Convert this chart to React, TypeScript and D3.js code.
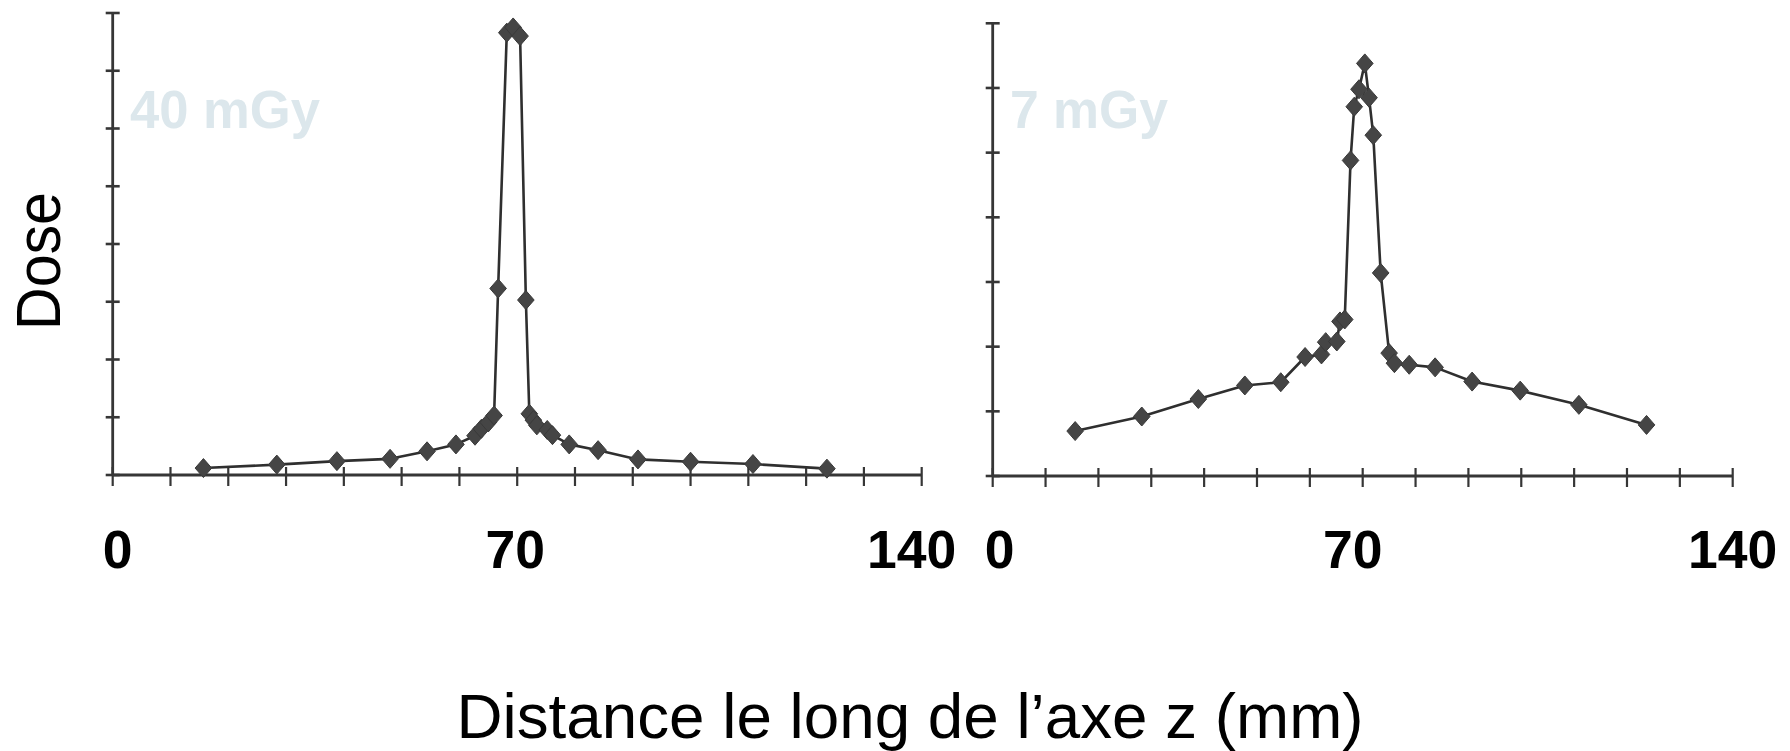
import React from "react";
import * as d3 from "d3";

// ---- Data ----
const zLeft = [15.7, 28.4, 38.8, 48.0, 54.4, 59.4, 62.7, 63.8, 65.0, 66.0, 66.7, 68.2, 69.3, 70.5, 71.5, 72.1, 72.8, 73.4, 75.2, 76.1, 79.0, 84.0, 90.9, 100.0, 110.8, 123.6];
const doseLeft = [0.12, 0.18, 0.24, 0.28, 0.41, 0.53, 0.68, 0.8, 0.91, 1.03, 3.23, 7.66, 7.75, 7.6, 3.03, 1.06, 0.95, 0.86, 0.78, 0.69, 0.53, 0.43, 0.27, 0.23, 0.19, 0.11];

const zRight = [15.6, 28.2, 38.9, 47.7, 54.5, 59.1, 62.2, 63.0, 65.1, 65.7, 66.6, 67.7, 68.4, 69.3, 70.4, 71.2, 72.0, 73.4, 75.0, 76.0, 78.8, 83.7, 90.7, 99.8, 110.9, 123.7];
const doseRight = [0.695, 0.92, 1.19, 1.40, 1.45, 1.84, 1.88, 2.07, 2.08, 2.39, 2.42, 4.88, 5.71, 5.98, 6.38, 5.85, 5.27, 3.14, 1.90, 1.745, 1.72, 1.68, 1.46, 1.32, 1.10, 0.79];

const xTickValues = d3.range(0, 141, 10);
const xTickLabels = ["0", "70", "140"];
const panelLabels = ["40 mGy", "7 mGy"];
const yAxisTitle = "Dose";
const xAxisTitle = "Distance le long de l\u2019axe z (mm)";

const FONT = "'Liberation Sans', Arial, Helvetica, sans-serif";
const AXIS = "#363636";
const LINE = "#2f2f2f";
const MARK = "#454545";

type PanelProps = {
  z: number[];
  dose: number[];
  yMax: number;
  x0: number;
  x1: number;
  yBase: number;
  yTop: number;
  label: string;
  labelX: number;
  labelLen: number;
  tickLabelDx: number[];
};

function Panel(p: PanelProps) {
  const x = d3.scaleLinear().domain([0, 140]).range([p.x0, p.x1]);
  const y = d3.scaleLinear().domain([0, p.yMax]).range([p.yBase, p.yTop]);
  const pts = p.z.map((v, i) => [v, p.dose[i]] as [number, number]);
  const line = d3
    .line<[number, number]>()
    .x((d) => x(d[0]))
    .y((d) => y(d[1]));
  const yTicks = d3.range(0, p.yMax + 1, 1);
  const diamond = (cx: number, cy: number) =>
    `M${cx},${cy - 9.5}L${cx + 8.3},${cy}L${cx},${cy + 9.5}L${cx - 8.3},${cy}Z`;
  return (
    <g>
      <text
        x={p.labelX}
        y={128}
        fontFamily={FONT}
        fontWeight="bold"
        fontSize={54}
        fill="#dce7ec"
        textLength={p.labelLen}
        lengthAdjust="spacingAndGlyphs"
      >
        {p.label}
      </text>
      {/* axes */}
      <line x1={x(0)} x2={x(0)} y1={y(p.yMax)} y2={y(0)} stroke={AXIS} strokeWidth={2.8} />
      <line x1={x(0)} x2={x(140)} y1={y(0)} y2={y(0)} stroke={AXIS} strokeWidth={2.8} />
      {yTicks.map((t) => (
        <line key={"yt" + t} x1={x(0) - 7} x2={x(0) + 7} y1={y(t)} y2={y(t)} stroke={AXIS} strokeWidth={2.6} />
      ))}
      {xTickValues.map((t) => (
        <line key={"xt" + t} x1={x(t)} x2={x(t)} y1={y(0) - 8} y2={y(0) + 11} stroke={AXIS} strokeWidth={2.2} />
      ))}
      {xTickLabels.map((t, i) => (
        <text
          key={"xl" + t}
          x={x(+t) + p.tickLabelDx[i]}
          y={568}
          textAnchor="middle"
          fontFamily={FONT}
          fontWeight="bold"
          fontSize={53.5}
          fill="#000"
        >
          {t}
        </text>
      ))}
      <path d={line(pts) || ""} fill="none" stroke={LINE} strokeWidth={2.6} strokeLinejoin="round" />
      {pts.map((d, i) => (
        <path key={"m" + i} d={diamond(x(d[0]), y(d[1]))} fill={MARK} stroke="#3a3a3a" strokeWidth={1} />
      ))}
    </g>
  );
}

export default function App() {
  return (
    <svg
      width={1790}
      height={751}
      viewBox="0 0 1790 751"
      style={{ position: "absolute", left: 0, top: 0, background: "#fff" }}
    >
      <rect x={0} y={0} width={1790} height={751} fill="#fff" />
      <Panel
        z={zLeft}
        dose={doseLeft}
        yMax={8}
        x0={112.7}
        x1={921.7}
        yBase={475}
        yTop={13}
        label={panelLabels[0]}
        labelX={130}
        labelLen={190}
        tickLabelDx={[5, -2, -10]}
      />
      <Panel
        z={zRight}
        dose={doseRight}
        yMax={7}
        x0={992.7}
        x1={1732.7}
        yBase={476}
        yTop={23.3}
        label={panelLabels[1]}
        labelX={1010}
        labelLen={158}
        tickLabelDx={[7, -10, 0]}
      />
      <text
        transform="translate(60,261) rotate(-90)"
        textAnchor="middle"
        fontFamily={FONT}
        fontSize={63}
        fill="#000"
        textLength={138}
        lengthAdjust="spacingAndGlyphs"
      >
        {yAxisTitle}
      </text>
      <text
        x={910}
        y={738}
        textAnchor="middle"
        fontFamily={FONT}
        fontSize={63}
        fill="#000"
        textLength={907}
        lengthAdjust="spacingAndGlyphs"
      >
        {xAxisTitle}
      </text>
    </svg>
  );
}
